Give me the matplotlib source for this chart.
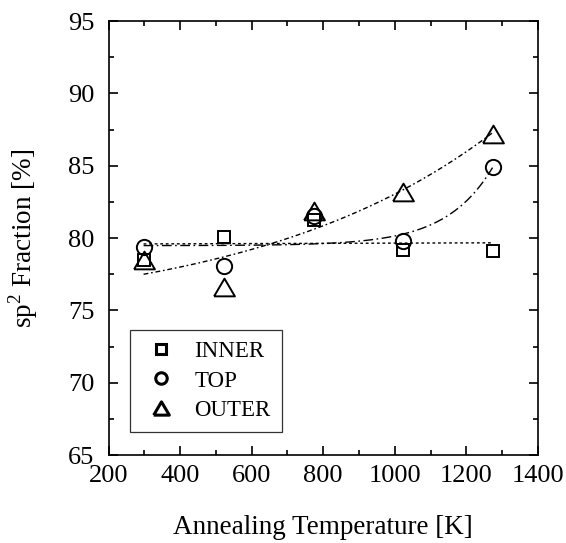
import numpy as np
import matplotlib
matplotlib.use("Agg")
import matplotlib.pyplot as plt
from matplotlib.ticker import MultipleLocator

plt.rcParams['font.family'] = ['Liberation Serif', 'DejaVu Serif']
plt.rcParams['mathtext.fontset'] = 'custom'
plt.rcParams['mathtext.rm'] = 'Liberation Serif'

temperature = [298, 523, 773, 1023, 1273]
inner = [78.5, 80.1, 81.25, 79.2, 79.1]
top = [79.4, 78.1, 81.5, 79.8, 84.9]
outer = [78.5, 76.6, 81.9, 83.2, 87.2]

x = np.array(temperature, float)


def exp_fit(xv, yv):
    best = None
    for t in np.linspace(50, 3000, 3000):
        e = np.exp(xv / t)
        A = np.vstack([np.ones_like(e), e]).T
        coef, res, *_ = np.linalg.lstsq(A, yv, rcond=None)
        r = np.sum((A @ coef - yv) ** 2)
        if best is None or r < best[0]:
            best = (r, t, coef)
    _, t, (y0, a) = best
    return lambda xx: y0 + a * np.exp(xx / t)


xf = np.linspace(x.min(), x.max(), 300)
p_in = np.polyfit(x, inner, 1)
f_top = exp_fit(x, np.array(top))
f_out = exp_fit(x, np.array(outer))

fig = plt.figure(figsize=(5.66, 5.43), dpi=100)
ax = fig.add_axes([0.1917, 0.162, 0.7588, 0.7993])

tri = [(-1, -0.85), (1, -0.85), (0, 0.85), (-1, -0.85)]
mew = 1.4
ax.plot(x, inner, ls='none', marker='s', ms=9, mfc='none', mec='k', mew=mew, label='INNER', zorder=3)
ax.plot(x, top, ls='none', marker='o', ms=11, mfc='none', mec='k', mew=mew, label='TOP', zorder=3)
ax.plot(x, outer, ls='none', marker=tri, ms=15, mfc='none', mec='k', mew=mew, label='OUTER', zorder=3)

ax.plot(xf, np.polyval(p_in, xf), color='k', lw=1.0, ls=(0, (2, 2)), zorder=2)
ax.plot(xf, f_top(xf), color='k', lw=1.0, ls=(0, (7, 2.5, 1.2, 2.5)), zorder=2)
ax.plot(xf, f_out(xf), color='k', lw=1.0, ls=(0, (3.5, 2, 1.2, 2)), zorder=2)

ax.set_xlim(200, 1400)
ax.set_ylim(65, 95)
ax.xaxis.set_major_locator(MultipleLocator(200))
ax.xaxis.set_minor_locator(MultipleLocator(100))
ax.yaxis.set_major_locator(MultipleLocator(5))
ax.yaxis.set_minor_locator(MultipleLocator(2.5))
ax.tick_params(which='both', direction='in', top=True, right=True, width=1.2, labelsize=19, colors='k')
ax.tick_params(which='major', length=6.3)
ax.tick_params(which='minor', length=3.3)
ax.tick_params(axis='x', which='major', pad=7.5)
ax.tick_params(axis='y', which='major', pad=10)
for s in ax.spines.values():
    s.set_linewidth(1.2)

ax.set_xlabel('Annealing Temperature [K]', fontsize=19.5, labelpad=20)
ax.set_ylabel('sp$^2$ Fraction [%]', fontsize=19.5, labelpad=20)

leg = ax.legend(loc='lower left', bbox_to_anchor=(0.05, 0.053), borderaxespad=0,
                fontsize=16.5, frameon=True, fancybox=False, edgecolor='k',
                handlelength=1.75, handletextpad=0.57, labelspacing=0.35, borderpad=0.5,
                markerscale=0.75)
leg.get_frame().set_linewidth(0.9)
for h in leg.legend_handles:
    h.set_markeredgewidth(2.2)

fig.savefig('out.png', dpi=100)
